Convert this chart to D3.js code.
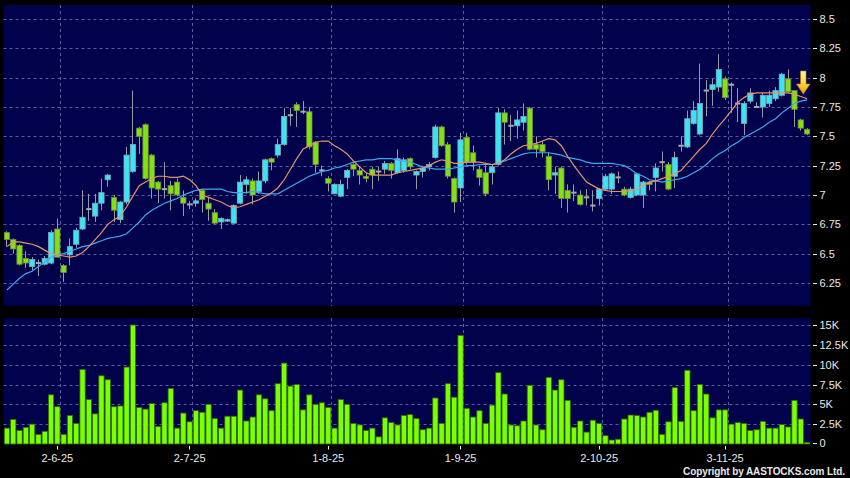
<!DOCTYPE html>
<html><head><meta charset="utf-8">
<script src="https://cdn.jsdelivr.net/npm/d3@7"></script>
<style>body{margin:0;background:#000;} svg{display:block}</style>
</head><body><svg id="c" width="850" height="478"></svg>
<script>
// ---- data (HKD, daily) ----
const openP = [6.68,6.62,6.57,6.46,6.39,6.42,6.41,6.42,6.71,6.40,6.49,6.58,6.71,6.88,6.82,6.93,7.13,6.98,6.79,6.94,
7.20,7.57,7.60,7.34,7.11,7.05,7.08,7.11,6.98,6.92,6.93,7.04,6.93,6.85,6.77,6.78,6.76,6.93,7.09,7.12,
7.03,7.12,7.31,7.34,7.43,7.68,7.77,7.71,7.71,7.45,7.21,7.14,7.01,6.99,7.15,7.26,7.21,7.16,7.22,7.20,
7.22,7.27,7.19,7.21,7.31,7.17,7.20,7.24,7.32,7.58,7.43,7.14,7.06,7.49,7.36,7.22,7.19,7.19,7.26,7.70,
7.59,7.59,7.62,7.74,7.43,7.43,7.33,7.17,7.23,7.04,7.02,7.00,6.98,6.91,6.97,7.05,7.05,7.15,7.05,6.98,
7.00,7.00,7.11,7.15,7.28,7.26,7.16,7.42,7.41,7.61,7.52,7.89,7.90,7.92,7.99,7.94,7.78,7.61,7.80,7.75,
7.75,7.78,7.82,7.85,7.99,7.89,7.64,7.56];
const highP = [6.69,6.63,6.58,6.52,6.47,6.45,6.48,6.70,6.80,6.41,6.63,6.72,7.04,7.01,7.01,7.14,7.18,7.00,6.95,7.41,
7.89,7.58,7.61,7.35,7.12,7.28,7.12,7.14,7.04,6.95,6.97,7.05,6.98,6.88,6.81,6.80,6.92,7.17,7.16,7.14,
7.20,7.31,7.32,7.48,7.74,7.74,7.79,7.80,7.75,7.46,7.25,7.16,7.10,7.13,7.22,7.27,7.24,7.19,7.24,7.24,
7.29,7.28,7.39,7.32,7.32,7.21,7.25,7.28,7.60,7.59,7.45,7.15,7.53,7.53,7.42,7.25,7.26,7.26,7.74,7.73,
7.68,7.72,7.78,7.75,7.50,7.46,7.36,7.24,7.24,7.09,7.09,7.04,7.05,7.04,7.06,7.18,7.19,7.20,7.07,7.07,
7.19,7.12,7.12,7.27,7.37,7.28,7.37,7.50,7.72,7.80,8.12,7.98,7.99,8.20,8.01,7.96,7.91,7.80,7.91,7.79,
7.87,7.89,7.92,8.04,8.07,7.89,7.65,7.57];
const lowP = [6.56,6.50,6.40,6.38,6.36,6.31,6.40,6.41,6.47,6.26,6.40,6.55,6.70,6.78,6.77,6.87,7.07,6.77,6.76,6.92,
7.19,7.35,7.13,6.97,6.93,6.97,6.87,6.99,6.82,6.88,6.90,6.85,6.78,6.75,6.71,6.77,6.75,6.92,7.01,6.92,
7.01,7.10,7.21,7.32,7.42,7.59,7.58,7.69,7.39,7.19,7.16,7.03,7.01,6.98,7.05,7.16,7.09,7.11,7.05,7.12,
7.18,7.14,7.18,7.19,7.22,7.05,7.15,7.21,7.31,7.41,7.14,6.85,6.94,7.26,7.21,7.08,6.99,7.09,7.25,7.43,
7.46,7.48,7.55,7.38,7.32,7.32,7.04,7.01,6.89,6.85,6.95,6.91,6.91,6.86,6.91,7.04,7.01,7.10,6.99,6.97,
6.99,6.89,7.04,7.03,7.20,7.04,7.06,7.37,7.40,7.60,7.51,7.67,7.76,7.88,7.81,7.70,7.62,7.51,7.78,7.74,
7.66,7.75,7.80,7.84,7.87,7.58,7.55,7.51];
const closeP = [6.62,6.54,6.41,6.42,6.45,6.42,6.46,6.68,6.47,6.34,6.56,6.70,6.81,6.88,6.93,7.02,7.17,6.87,6.94,7.34,
7.43,7.50,7.14,7.06,7.05,7.05,7.01,7.00,6.93,6.92,6.95,6.96,6.88,6.76,6.80,6.79,6.91,7.11,7.13,7.00,
7.12,7.30,7.28,7.43,7.67,7.68,7.72,7.71,7.41,7.26,7.21,7.10,7.09,7.09,7.21,7.22,7.17,7.14,7.17,7.20,
7.27,7.21,7.31,7.30,7.24,7.20,7.23,7.26,7.58,7.42,7.16,6.94,7.47,7.28,7.28,7.15,7.01,7.24,7.70,7.62,
7.59,7.64,7.67,7.39,7.39,7.37,7.13,7.19,6.97,6.97,7.02,6.92,6.98,6.91,7.05,7.16,7.18,7.15,7.00,7.05,
7.18,7.11,7.09,7.23,7.28,7.05,7.32,7.42,7.65,7.72,7.78,7.89,7.94,8.07,7.83,7.94,7.78,7.78,7.87,7.75,
7.85,7.85,7.89,8.03,7.88,7.73,7.57,7.52];
const volume = [2000,3100,1700,2100,2500,1200,1600,6200,4700,1200,3600,2600,9400,5600,3800,8600,8100,4700,4800,9700,
15000,4600,4400,5100,2200,5200,7000,2000,3900,2800,4200,4000,5000,3200,2000,3500,3500,6800,2900,3400,
6200,5700,4200,7600,10200,7300,7500,4300,6200,5000,5200,4600,2000,5600,5000,2600,2400,1700,2000,900,
3300,2700,2400,3600,3700,3200,1800,2000,5800,2600,7600,5900,13700,4500,3400,4200,2600,4900,9000,6300,
2400,2300,2900,7400,2400,1800,8400,6800,8100,5500,2100,2900,1500,3000,2600,1050,500,600,3150,3650,
3600,3400,4000,4250,1200,2800,7100,2850,9300,4200,7500,6300,3300,4300,4300,2500,2700,2600,1700,1800,
2850,2000,2000,2450,2150,5500,3150,200];
const ma10 = [6.56,6.60,6.60,6.59,6.58,6.56,6.53,6.50,6.49,6.48,6.47,6.48,6.51,6.56,6.62,6.68,6.75,6.79,6.82,6.90,
6.99,7.08,7.11,7.14,7.16,7.16,7.15,7.15,7.16,7.13,7.08,7.00,6.98,6.96,6.94,6.91,6.89,6.90,6.92,6.94,
6.96,6.99,7.02,7.06,7.13,7.22,7.31,7.39,7.42,7.45,7.46,7.46,7.42,7.39,7.35,7.29,7.24,7.19,7.17,7.17,
7.17,7.17,7.19,7.20,7.21,7.22,7.23,7.25,7.28,7.30,7.29,7.27,7.27,7.28,7.28,7.28,7.27,7.26,7.27,7.30,
7.35,7.39,7.42,7.43,7.44,7.46,7.48,7.47,7.42,7.33,7.25,7.18,7.11,7.08,7.05,7.04,7.03,7.03,7.03,7.04,
7.05,7.08,7.11,7.12,7.14,7.16,7.18,7.21,7.27,7.33,7.39,7.44,7.52,7.59,7.65,7.72,7.79,7.83,7.86,7.87,
7.87,7.87,7.87,7.87,7.87,7.86,7.84,7.82];
const ma20 = [6.19,6.24,6.29,6.33,6.35,6.39,6.43,6.47,6.49,6.50,6.52,6.54,6.56,6.57,6.59,6.61,6.63,6.64,6.65,6.67,
6.72,6.77,6.83,6.87,6.90,6.93,6.95,6.97,7.00,7.02,7.04,7.05,7.05,7.05,7.05,7.03,7.02,7.02,7.02,7.03,
7.02,7.01,7.01,7.01,7.04,7.07,7.10,7.13,7.16,7.18,7.20,7.21,7.23,7.24,7.26,7.28,7.29,7.30,7.30,7.31,
7.31,7.31,7.30,7.29,7.28,7.26,7.24,7.23,7.22,7.22,7.22,7.23,7.24,7.25,7.25,7.26,7.26,7.26,7.27,7.29,
7.31,7.33,7.35,7.36,7.36,7.36,7.36,7.35,7.34,7.32,7.31,7.30,7.28,7.27,7.27,7.27,7.27,7.26,7.25,7.22,
7.18,7.16,7.13,7.12,7.11,7.12,7.13,7.14,7.16,7.19,7.22,7.26,7.31,7.35,7.38,7.42,7.45,7.49,7.52,7.55,
7.58,7.62,7.65,7.70,7.74,7.78,7.80,7.81];
const priceTicks = [6.25,6.5,6.75,7,7.25,7.5,7.75,8,8.25,8.5];
const volTicks = [0,2500,5000,7500,10000,12500,15000];
const volTickLabels = ["0","2.5K","5K","7.5K","10K","12.5K","15K"];
const dateTickIndex = [8,29,51,72,94,114];
const dateTickLabels = ["2-6-25","2-7-25","1-8-25","1-9-25","2-10-25","3-11-25"];
const signalIndex = 127;   // down-arrow marker on last session
const signalPrice = 7.86;

// ---- layout ----
const svg = d3.select("#c");
const W = 850, H = 478;
const P1 = {x0:3.5, x1:810.5, y0:5, y1:306};
const P2 = {x0:3.5, x1:810.5, y0:318, y1:444};
const NAVY = "#02024c", GRID = "#5c5c9c", TXT = "#e8e8e8";
const FONT = "'Liberation Sans', Arial, sans-serif";

svg.append("rect").attr("width",W).attr("height",H).attr("fill","#000");
[P1,P2].forEach(p=>svg.append("rect").attr("x",p.x0).attr("y",p.y0)
  .attr("width",p.x1-p.x0).attr("height",p.y1-p.y0).attr("fill",NAVY));

const N = closeP.length;
const x = d3.scaleBand().domain(d3.range(N)).range([4.3, 809.7]).paddingInner(0.16).paddingOuter(0).align(0);
const bw = x.bandwidth();
const cx = i => x(i) + bw/2;
const yP = d3.scaleLinear().domain([6.25, 8.5]).range([283, 19]);
const yV = d3.scaleLinear().domain([0, 15000]).range([444, 325]);
const crisp = v => Math.round(v) + 0.5;

// grids
const g = svg.append("g").attr("stroke",GRID).attr("stroke-dasharray","3,3").attr("stroke-width",1);
priceTicks.forEach(v=>g.append("line").attr("x1",P1.x0).attr("x2",P1.x1).attr("y1",crisp(yP(v))).attr("y2",crisp(yP(v))));
volTicks.filter(v=>v>0).forEach(v=>g.append("line").attr("x1",P2.x0).attr("x2",P2.x1).attr("y1",crisp(yV(v))).attr("y2",crisp(yV(v))));
dateTickIndex.forEach(i=>{
  const gx = crisp(x(i)+bw);
  g.append("line").attr("x1",gx).attr("x2",gx).attr("y1",P1.y0).attr("y2",P1.y1);
  g.append("line").attr("x1",gx).attr("x2",gx).attr("y1",P2.y0).attr("y2",P2.y1);
});

// clip
svg.append("clipPath").attr("id","clip1").append("rect").attr("x",P1.x0).attr("y",P1.y0).attr("width",P1.x1-P1.x0).attr("height",P1.y1-P1.y0);

// candles
const cg = svg.append("g").attr("clip-path","url(#clip1)");
const idx = d3.range(N);
cg.selectAll("line.w").data(idx).join("line").attr("class","w")
  .attr("x1",i=>crisp(cx(i)-0.5)).attr("x2",i=>crisp(cx(i)-0.5))
  .attr("y1",i=>yP(highP[i])).attr("y2",i=>yP(lowP[i]))
  .attr("stroke","#9a9aa6").attr("stroke-width",1);
cg.selectAll("rect.b").data(idx).join("rect").attr("class","b")
  .attr("x",i=>x(i)).attr("width",bw)
  .attr("y",i=>{const t=yP(Math.max(openP[i],closeP[i])); return openP[i]===closeP[i]? t-1 : t;})
  .attr("height",i=>{const h=Math.abs(yP(openP[i])-yP(closeP[i])); return openP[i]===closeP[i]? 2 : Math.max(h,1.5);})
  .attr("fill",i=>closeP[i]>openP[i]?"#3ce3f2":(closeP[i]<openP[i]?"#84e016":"#a8a8b0"))
  .attr("stroke",i=>closeP[i]>openP[i]?"#7fa9b4":(closeP[i]<openP[i]?"#6f8a3a":"none"))
  .attr("stroke-width",0.8);

// moving averages
const line = arr => d3.line().x((d,i)=>cx(i)).y(d=>yP(d)).curve(d3.curveLinear)(arr);
cg.append("path").attr("d",line(ma20)).attr("fill","none").attr("stroke","#40a8ee").attr("stroke-width",1.2);
cg.append("path").attr("d",line(ma10)).attr("fill","none").attr("stroke","#e5946a").attr("stroke-width",1.2);

// signal arrow
const defs = svg.append("defs");
const grad = defs.append("linearGradient").attr("id","ag").attr("x1",0).attr("x2",0).attr("y1",0).attr("y2",1);
grad.append("stop").attr("offset","0%").attr("stop-color","#fff3a0");
grad.append("stop").attr("offset","55%").attr("stop-color","#ffd23a");
grad.append("stop").attr("offset","100%").attr("stop-color","#f29a00");
const tipX = (cx(signalIndex-1)+cx(signalIndex))/2 - 0.6, tipY = yP(signalPrice);
svg.append("path")
  .attr("d",`M${tipX-2.7},${tipY-23} L${tipX+2.7},${tipY-23} L${tipX+2.7},${tipY-10} L${tipX+6.7},${tipY-10} L${tipX},${tipY} L${tipX-6.7},${tipY-10} L${tipX-2.7},${tipY-10} Z`)
  .attr("fill","url(#ag)").attr("stroke","#c98a10").attr("stroke-width",0.6);

// volume bars
svg.append("g").selectAll("rect").data(idx).join("rect")
  .attr("x",i=>x(i)).attr("width",bw)
  .attr("y",i=>yV(volume[i])).attr("height",i=>yV(0)-yV(volume[i]))
  .attr("fill","#7cff00").attr("stroke","#2e6a00").attr("stroke-width",0.8);

// right axes
const ax = svg.append("g").attr("font-family",FONT).attr("font-size",11).attr("fill",TXT);
priceTicks.forEach(v=>{
  const yy = crisp(yP(v));
  ax.append("line").attr("x1",813).attr("x2",817).attr("y1",yy).attr("y2",yy).attr("stroke",TXT);
  ax.append("text").attr("x",819.5).attr("y",yy).attr("dy","0.36em").text(String(v));
});
volTicks.forEach((v,k)=>{
  const yy = v===0 ? 443.5 : crisp(yV(v));
  ax.append("line").attr("x1",813).attr("x2",817).attr("y1",yy).attr("y2",yy).attr("stroke",TXT);
  ax.append("text").attr("x",819.5).attr("y",yy).attr("dy","0.36em").text(volTickLabels[k]);
});
// date axis
dateTickIndex.forEach((i,k)=>{
  const xx = crisp(cx(i)-0.5);
  ax.append("line").attr("x1",xx).attr("x2",xx).attr("y1",446).attr("y2",449.5).attr("stroke",TXT);
  ax.append("text").attr("x",cx(i)).attr("y",461.5).attr("text-anchor","middle").text(dateTickLabels[k]);
});
// copyright
svg.append("text").attr("x",845).attr("y",474.5).attr("text-anchor","end")
  .attr("font-family",FONT).attr("font-size",10).attr("font-weight","bold").attr("fill",TXT)
  .attr("textLength",162).attr("lengthAdjust","spacing")
  .text("Copyright by AASTOCKS.com Ltd.");
</script></body></html>
